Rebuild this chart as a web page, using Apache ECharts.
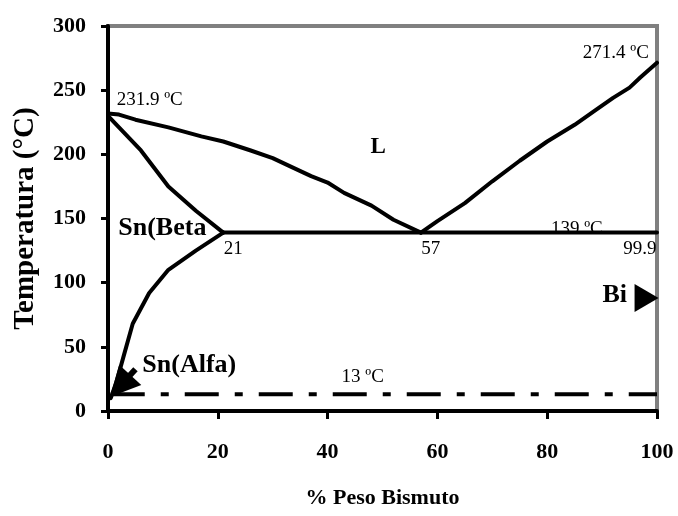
<!DOCTYPE html>
<html>
<head>
<meta charset="utf-8">
<script src="https://cdn.jsdelivr.net/npm/echarts@6/dist/echarts.min.js"></script>
<style>html,body{margin:0;padding:0;background:#fff;}#c{width:678px;height:516px;}</style>
</head>
<body>
<div id="c"></div>
<script>
// ---- data (x = % peso Bi, y = temperatura °C) ----
const xTicks = [0, 20, 40, 60, 80, 100];
const yTicks = [0, 50, 100, 150, 200, 250, 300];
const liquidusSn = [[0,231.9],[2,231],[5,227],[11,221],[17,214],[21,210],[26,203],[30,197],[33,191],[37,183],[40,178],[43,170],[48,160],[52,149],[57,139]];
const liquidusBi = [[57,139],[60,148],[65,162],[70,179],[75,195],[80,210],[85,223],[89,235],[92,244],[95,252],[97,260],[100,271.4]];
const solidusSn = [[0,230],[6,203],[11,175],[16,156],[21,139]];
const solvusSn = [[21,139],[16,125],[11,110],[7.5,92],[4.5,68],[2.8,42],[1.5,22],[0.5,10]];
const eutectic = [[21,139],[100,139]];
const transition = [[0.5,13],[100,13]];
// annotations: text, x, y, bold
const annoText = ['231.9 ºC','271.4 ºC','L','Sn(Beta','21','57','99.9','139 ºC','Bi','Sn(Alfa)','13 ºC'];
const annoX    = [7.6, 92.5, 49.2, 9.9, 22.8, 58.8, 96.9, 85.4, 92.3, 14.8, 46.4];
const annoY    = [242.7, 278.6, 205.3, 142.2, 126.6, 126.6, 126.6, 141.5, 90, 35.5, 26.1];
const annoSize = [19, 19, 23, 26, 19, 19, 19, 19, 26, 26, 19];
const annoBold = [false,false,true,true,false,false,false,false,true,true,false];
const biArrow = [[98.1, 88]];
const alfaArrow = [[5.0, 32.5], [2.2, 19.5]];

const FONT = '"Liberation Serif", "Times New Roman", serif';
const chart = echarts.init(document.getElementById('c'));

function curve(data, extra) {
  return Object.assign({
    type: 'line', data: data, symbol: 'none', clip: false, silent: true,
    lineStyle: { color: '#000', width: 4, cap: 'round', join: 'round' }
  }, extra || {});
}

const annoData = annoText.map((t, i) => ({
  value: [annoX[i], annoY[i]],
  label: {
    show: true, position: 'inside', formatter: t, color: '#000', opacity: 1,
    fontFamily: FONT, fontSize: annoSize[i],
    fontWeight: annoBold[i] ? 'bold' : 'normal',
    textBorderWidth: 0
  }
}));

chart.setOption({
  animation: false,
  backgroundColor: '#fff',
  grid: { left: 108, top: 26, width: 549, height: 385, show: true, borderColor: '#808080', borderWidth: 4, backgroundColor: 'transparent' },
  xAxis: {
    type: 'value', min: xTicks[0], max: xTicks[xTicks.length-1], interval: 20,
    name: '% Peso Bismuto', nameLocation: 'middle', nameGap: 76,
    nameTextStyle: { fontFamily: FONT, fontSize: 22, fontWeight: 'bold', color: '#000' },
    axisLine: { show: true, lineStyle: { color: '#000', width: 4 } },
    axisTick: { show: true, inside: false, length: 8, lineStyle: { color: '#000', width: 3 } },
    axisLabel: { margin: 30, fontFamily: FONT, fontSize: 22, fontWeight: 'bold', color: '#000' },
    splitLine: { show: false }
  },
  yAxis: {
    type: 'value', min: yTicks[0], max: yTicks[yTicks.length-1], interval: 50,
    name: 'Temperatura (°C)', nameLocation: 'middle', nameGap: 68,
    nameTextStyle: { fontFamily: FONT, fontSize: 29, fontWeight: 'bold', color: '#000' },
    axisLine: { show: true, lineStyle: { color: '#000', width: 4 } },
    axisTick: { show: true, inside: false, length: 7, lineStyle: { color: '#000', width: 3 } },
    axisLabel: { margin: 22, fontFamily: FONT, fontSize: 22, fontWeight: 'bold', color: '#000' },
    splitLine: { show: false }
  },
  series: [
    curve(liquidusSn),
    curve(liquidusBi),
    curve(solidusSn),
    curve(solvusSn),
    curve(eutectic),
    curve(transition, { lineStyle: { color: '#000', width: 4, type: [34, 16, 8, 16], cap: 'butt' } }),
    {
      type: 'scatter', data: biArrow, silent: true,
      symbol: 'path://M0,0 L10,6 L0,12 Z', symbolSize: [24, 28],
      itemStyle: { color: '#000', opacity: 1 }
    },
    {
      type: 'line', data: [], silent: true, symbol: 'none',
      markLine: {
        silent: true, symbol: ['none', 'triangle'], symbolSize: 30,
        label: { show: false },
        lineStyle: { color: '#000', width: 6, type: 'solid', opacity: 1 },
        itemStyle: { color: '#000', opacity: 1 },
        data: [[{ coord: alfaArrow[0] }, { coord: alfaArrow[1] }]]
      }
    },
    {
      type: 'scatter', data: annoData, symbolSize: 1, silent: true,
      itemStyle: { color: 'rgba(0,0,0,0)', opacity: 1 }
    }
  ]
});
</script>
</body>
</html>
